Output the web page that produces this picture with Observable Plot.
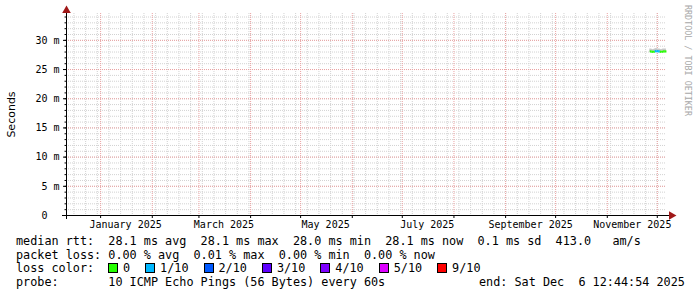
<!DOCTYPE html>
<html><head><meta charset="utf-8">
<script src="https://cdn.jsdelivr.net/npm/d3@7"></script>
<script src="https://cdn.jsdelivr.net/npm/@observablehq/plot@0.6"></script>
<style>
html,body{margin:0;padding:0;background:#fff;}
#wrap{position:relative;width:697px;height:297px;overflow:hidden;background:#fff;}
#chart svg{display:block;}
.tok{position:absolute;font-family:"DejaVu Sans Mono",monospace;font-size:11.8px;white-space:pre;line-height:14px;color:#000;}
.box{position:absolute;width:8px;height:8px;border:1px solid #000;}
</style>
</head><body>
<div id="wrap"><div id="chart"></div><div id="legend"></div></div>
<script>
// ---- data ----
const endTimeStr = "2025-12-06T12:44:54Z";
const spanDays = 360;
const sampleDates = ["2025-11-26","2025-11-27","2025-11-28","2025-11-29","2025-11-30","2025-12-01","2025-12-02","2025-12-03","2025-12-04","2025-12-05","2025-12-06"];
const medianMs = [28.1, 28.1, 28.0, 28.1, 28.2, 28.1, 28.1, 28.0, 28.1, 28.1, 28.1];
const smokeMinMs = [27.9, 27.9, 27.8, 27.9, 27.9, 27.9, 27.9, 27.8, 27.9, 27.9, 27.9];
const smokeMaxMs = [28.5, 28.5, 28.4, 28.5, 28.6, 28.5, 28.5, 28.4, 28.5, 28.5, 28.5];
const lossTenths = [0, 0, 0, 0, 1, 1, 1, 0, 0, 0, 0];
const yMaxSec = 0.0346;
const yTickValues = [0, 0.005, 0.010, 0.015, 0.020, 0.025, 0.030];
const yTickLabels = ["0\u2007\u2007", "5 m", "10 m", "15 m", "20 m", "25 m", "30 m"];
const xLabelDates = ["2025-01-16","2025-03-16","2025-05-16","2025-07-16","2025-09-16","2025-11-16"];
const xTickLabels = ["January 2025","March 2025","May 2025","July 2025","September 2025","November 2025"];
const lossLabels = ["0","1/10","2/10","3/10","4/10","5/10","9/10"];
const lossColors = ["#26ff00","#00b8ff","#0059ff","#5e00ff","#7e00ff","#dd00ff","#ff0000"];
const legendLines = [
  "median rtt:  28.1 ms avg  28.1 ms max  28.0 ms min  28.1 ms now  0.1 ms sd  413.0   am/s",
  "packet loss: 0.00 % avg  0.01 % max  0.00 % min  0.00 % now",
  "loss color:",
  "probe:       10 ICMP Echo Pings (56 Bytes) every 60s"
];
const endText = "end: Sat Dec  6 12:44:54 2025";
const yAxisTitle = "Seconds";
const sideText = "RRDTOOL / TOBI OETIKER";

// ---- derived ----
const endTime = new Date(endTimeStr);
const startTime = new Date(+endTime - spanDays * 864e5);
const samples = sampleDates.map((d, i) => ({
  t: new Date(d + "T12:00:00Z"),
  med: medianMs[i] / 1000,
  lo: smokeMinMs[i] / 1000,
  hi: smokeMaxMs[i] / 1000,
  loss: lossTenths[i]
}));
const segs = samples.slice(1).map((s, i) => ({t1: samples[i].t, v1: samples[i].med, t2: s.t, v2: s.med, loss: s.loss}));
const months = d3.utcMonth.range(d3.utcMonth.ceil(startTime), endTime);
const weeks = d3.utcMonday.range(d3.utcMonday.ceil(startTime), endTime);
const yMinor = d3.range(0, 35).map(v => v / 1000);
const labelDates = xLabelDates.map(d => new Date(d + "T00:00:00Z"));
const labelMap = new Map(labelDates.map((d, i) => [+d, xTickLabels[i]]));
const yLabelMap = new Map(yTickValues.map((v, i) => [v, yTickLabels[i]]));
const lossColorOf = l => lossColors[Math.min(l, lossColors.length - 1)];

const minorColor = "#d2d2d2";
const majorColor = "#eaa2a2";
const arrowColor = "#a01818";
const mono = "DejaVu Sans Mono";

const chart = Plot.plot({
  width: 697,
  height: 232,
  marginTop: 13,
  marginBottom: 17,
  marginLeft: 66,
  marginRight: 31,
  style: {background: "#fff", overflow: "visible"},
  x: {type: "utc", domain: [startTime, endTime]},
  y: {domain: [0, yMaxSec]},
  marks: [
    Plot.ruleY(yMinor, {stroke: minorColor, strokeDasharray: "1,1"}),
    Plot.ruleX(weeks, {stroke: minorColor, strokeDasharray: "1,1"}),
    Plot.ruleY(yTickValues.slice(1), {stroke: majorColor, strokeDasharray: "1,1"}),
    Plot.ruleX(months, {stroke: majorColor, strokeDasharray: "1,1"}),
    Plot.areaY(samples, {x: "t", y1: "lo", y2: "hi", fill: "#c8c8c8"}),
    Plot.link(segs, {x1: "t1", y1: "v1", x2: "t2", y2: "v2", stroke: d => lossColorOf(d.loss), strokeWidth: 2.2, strokeLinecap: "butt"}),
    Plot.axisY(yTickValues, {tickSize: 3, tickPadding: 4, tickFormat: v => yLabelMap.get(v), fontFamily: mono, fontSize: 10, fill: "#000", label: null}),
    Plot.axisY(yMinor, {tickSize: 1.5, tickFormat: () => "", label: null}),
    Plot.axisX(months, {tickSize: 3, tickFormat: () => "", label: null}),
    Plot.axisX(labelDates, {tickSize: 0, tickPadding: 5, tickFormat: d => labelMap.get(+d), fontFamily: mono, fontSize: 10, fill: "#000", label: null}),
    Plot.ruleY([0], {stroke: "#000", insetLeft: -4, insetRight: -3}),
    Plot.ruleX([startTime], {stroke: "#000", insetTop: -3, insetBottom: -4}),
    Plot.dot([endTime], {x: d => d, y: () => 0, symbol: "triangle", rotate: 90, r: 3.2, fill: arrowColor, stroke: "none", dx: 5}),
    Plot.dot([startTime], {x: d => d, y: () => yMaxSec, symbol: "triangle", r: 3.2, fill: arrowColor, stroke: "none", dy: -3}),
    Plot.text([yAxisTitle], {text: d => d, frameAnchor: "left", textAnchor: "middle", rotate: -90, dx: -55, fontFamily: "DejaVu Sans", fontSize: 11, fill: "#000"}),
    Plot.text([sideText], {text: d => d, frameAnchor: "right", textAnchor: "middle", rotate: 90, dx: 21, dy: -54, fontFamily: mono, fontSize: 8.4, fill: "#a8a8a8"})
  ]
});
document.getElementById("chart").appendChild(chart);

// ---- legend below the chart (monospace columns) ----
const legend = document.getElementById("legend");
const charW = 7.1;
const rowTops = [234, 248, 261, 275];
function placeText(str, left, top) {
  const re = /\S+/g;
  let m;
  while ((m = re.exec(str)) !== null) {
    const el = document.createElement("div");
    el.className = "tok";
    el.style.left = (left + m.index * charW) + "px";
    el.style.top = top + "px";
    el.textContent = m[0];
    legend.appendChild(el);
  }
}
legendLines.forEach((line, i) => placeText(line, 16, rowTops[i]));
placeText(endText, 479, rowTops[3]);
let bx = 108;
lossLabels.forEach((lab, i) => {
  const b = document.createElement("div");
  b.className = "box";
  b.style.left = bx + "px";
  b.style.top = "263px";
  b.style.background = lossColors[i];
  legend.appendChild(b);
  placeText(lab, bx + 15, rowTops[2]);
  bx += 15 + lab.length * charW + 15;
});
</script>
</body></html>
